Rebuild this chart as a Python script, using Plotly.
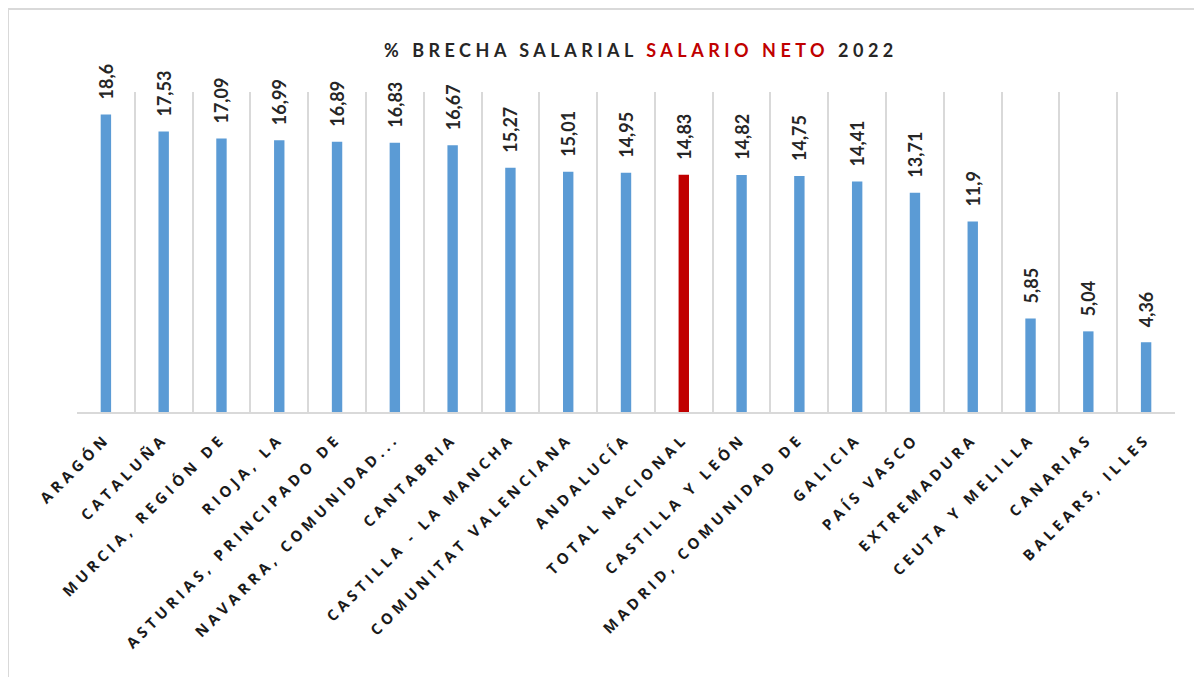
import plotly.graph_objects as go

categories = [
    "ARAGÓN", "CATALUÑA", "MURCIA, REGIÓN DE", "RIOJA, LA", "ASTURIAS, PRINCIPADO DE",
    "NAVARRA, COMUNIDAD...", "CANTABRIA", "CASTILLA - LA MANCHA", "COMUNITAT VALENCIANA",
    "ANDALUCÍA", "TOTAL NACIONAL", "CASTILLA Y LEÓN", "MADRID, COMUNIDAD DE", "GALICIA",
    "PAÍS VASCO", "EXTREMADURA", "CEUTA Y MELILLA", "CANARIAS", "BALEARS, ILLES",
]
values = [18.6, 17.53, 17.09, 16.99, 16.89, 16.83, 16.67, 15.27, 15.01, 14.95,
          14.83, 14.82, 14.75, 14.41, 13.71, 11.9, 5.85, 5.04, 4.36]
highlight = "TOTAL NACIONAL"

BLUE = "#5B9BD5"
RED = "#C00000"
FONT = "Lato"
TICK_FONT = "Open Sans"
LABEL_GAP = 0.75  # value-axis gap between bar top and its data label

colors = [RED if c == highlight else BLUE for c in categories]
labels = [f"{v:g}".replace(".", ",") for v in values]
ticktext = [f"<span style='letter-spacing:4.3px'>{c}</span>" for c in categories]

fig = go.Figure()
fig.add_trace(go.Bar(
    x=categories, y=values, marker=dict(color=colors, line=dict(width=0)),
    width=0.18, hoverinfo="skip",
))
# transparent carrier bars that hold the rotated data labels just above each bar
fig.add_trace(go.Bar(
    x=categories, y=[v + LABEL_GAP for v in values], width=0.18,
    marker=dict(color="rgba(0,0,0,0)", line=dict(width=0)),
    text=labels, textposition="outside", textangle=-90, constraintext="none",
    cliponaxis=False, hoverinfo="skip",
    outsidetextfont=dict(family=FONT, size=18, color="#262626", weight="bold"),
))

title = ("<span style='letter-spacing:4.5px'>% BRECHA SALARIAL "
         f"<span style='color:{RED}'>SALARIO NETO</span> 2022</span>")
fig.add_annotation(xref="paper", yref="paper", x=(641 - 77) / 1098, y=(412 - 50) / 320,
                   text=title, showarrow=False, xanchor="center", yanchor="middle",
                   font=dict(family=FONT, size=18, color="#262626", weight="bold"))

# outer chart border
fig.add_shape(type="rect", xref="paper", yref="paper",
              x0=(0 - 69) / 1098, x1=1.06, y0=-1.2, y1=(404 - 1) / 320,
              line=dict(color="#D9D9D9", width=2), fillcolor="rgba(0,0,0,0)", layer="below")

fig.update_layout(
    width=1194, height=669,
    margin=dict(l=69, r=27, t=84, b=265),
    paper_bgcolor="white", plot_bgcolor="white",
    showlegend=False, barmode="overlay",
    xaxis=dict(
        type="category", tickmode="array", tickvals=categories, ticktext=ticktext,
        tickangle=-45, tickson="boundaries", ticks="", showgrid=True,
        gridcolor="#D9D9D9", gridwidth=2, showline=True, linecolor="#D9D9D9", linewidth=2,
        tickfont=dict(family=TICK_FONT, size=15, color="#1A1A1A", weight="bold"),
        ticklabelstandoff=10, range=[-0.5, len(categories) - 0.5],
    ),
    yaxis=dict(range=[0, 20], showticklabels=False, showgrid=False, zeroline=False,
               showline=False, ticks=""),
)

fig.write_html("out.html")
